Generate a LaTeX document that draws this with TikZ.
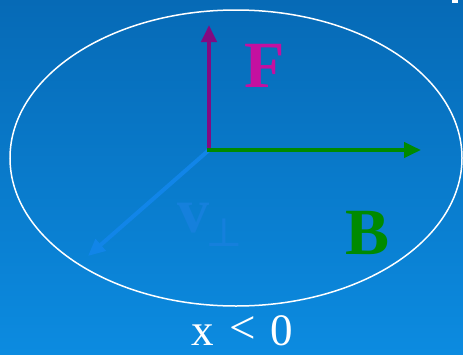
\documentclass[tikz,border=0pt]{standalone}
\usepackage{fontspec}
\setmainfont{Liberation Serif}
\newfontfamily\symfont{DejaVu Serif}
\usetikzlibrary{arrows.meta}
\definecolor{bgtop}{HTML}{066AB6}
\definecolor{bgbot}{HTML}{0C8BE0}
\definecolor{fcol}{HTML}{820A82}
\definecolor{flab}{HTML}{C410A0}
\definecolor{bcol}{HTML}{008A00}
\definecolor{vcol}{HTML}{1185E8}
\definecolor{vlab}{HTML}{1580DC}
\tikzset{
  vec/.style={line width=4pt,-{Triangle[length=17pt,width=15pt]}},
  lab/.style={inner sep=0pt,anchor=base west},
  cond/.style={lab,text=white,text depth=0pt,font=\fontsize{45}{45}\selectfont},
}
\begin{document}
\begin{tikzpicture}[x=1pt,y=-1pt]
\shade[top color=bgtop,bottom color=bgbot] (0,0) rectangle (463,354);
\useasboundingbox (0,0) rectangle (463,354);
\fill[white] (452,0) rectangle (458,2.5);
\draw[white,line width=1.5pt] (236,158) ellipse [x radius=226, y radius=148];
\coordinate (o) at (209,150);
\coordinate (ftip) at (209,25);
\coordinate (btip) at (421,150);
\coordinate (vtip) at (88,256);
\draw[vec,vcol] (o) -- (vtip);
\draw[vec,fcol] (o) -- (ftip);
\draw[vec,bcol] ([xshift=-2pt]o) -- (btip);
\node[lab,text=flab,font=\fontsize{66}{66}\selectfont\bfseries] (F) at (244,87) {F};
\node[lab,text=bcol,font=\fontsize{66}{66}\selectfont\bfseries] (B) at (345,254) {B};
\node[lab,text=vlab,font=\fontsize{64}{64}\selectfont\bfseries] (v) at (177,232) {v};
\node[lab,text=vlab,font=\fontsize{40}{40}\selectfont\symfont] (perp) at (205,246) {⊥};
\node[cond] (cx) at (191,345) {x};
\node[cond,font=\fontsize{47}{47}\selectfont] (clt) at (229,343) {<};
\node[cond] (c0) at (270,345) {0};
\end{tikzpicture}
\end{document}
